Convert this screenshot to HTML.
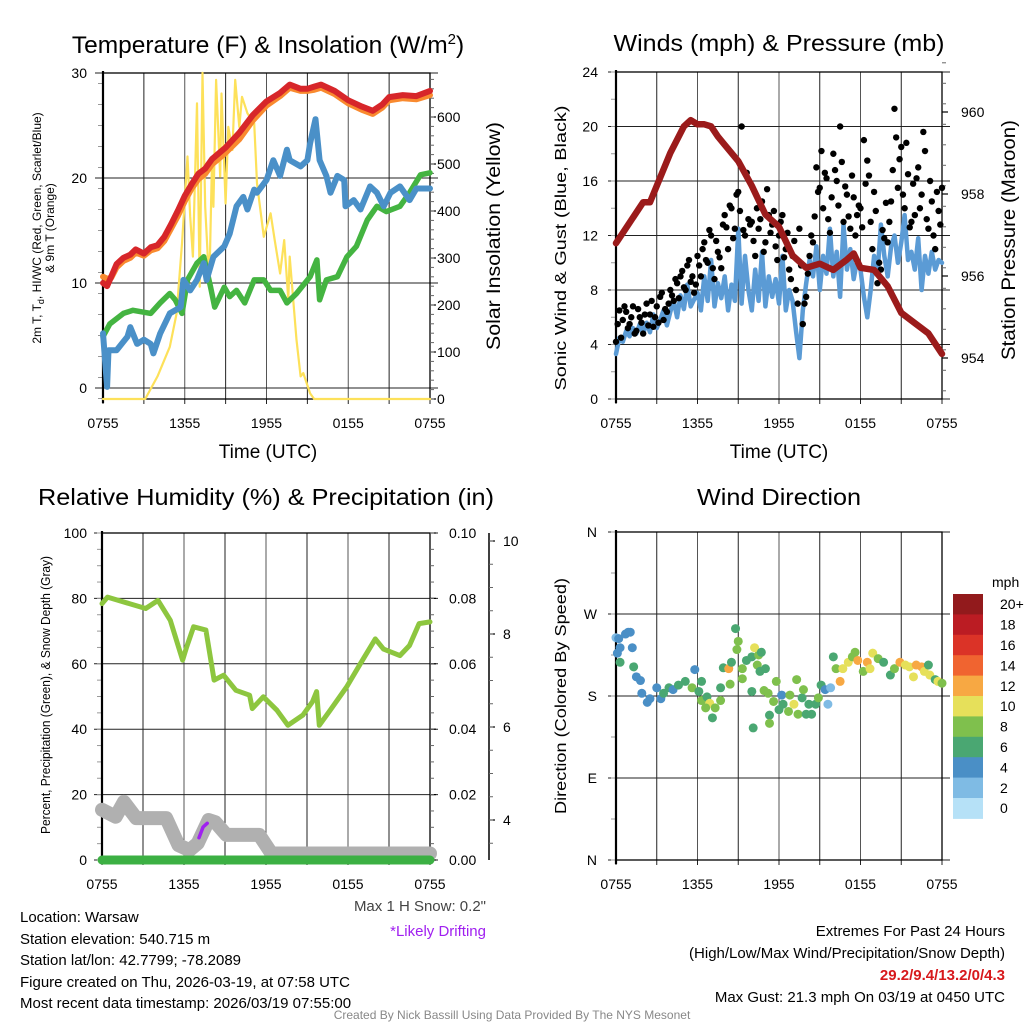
<!DOCTYPE html>
<html><head><meta charset="utf-8"><style>
html,body{margin:0;padding:0;background:#fff;}
svg{display:block;font-family:"Liberation Sans",Arial,sans-serif;}
</style></head><body>
<svg id="c" width="1024" height="1024" viewBox="0 0 1024 1024" xmlns="http://www.w3.org/2000/svg">
<rect width="1024" height="1024" fill="#fff"/>
<text x="268" y="53" font-size="24.5" text-anchor="middle">Temperature (F) &amp; Insolation (W/m<tspan dy="-9" font-size="15">2</tspan><tspan dy="9">)</tspan></text>
<text x="779" y="51" font-size="23" text-anchor="middle" textLength="331" lengthAdjust="spacingAndGlyphs">Winds (mph) &amp; Pressure (mb)</text>
<text x="266" y="505" font-size="23" text-anchor="middle" textLength="456" lengthAdjust="spacingAndGlyphs">Relative Humidity (%) &amp; Precipitation (in)</text>
<text x="779" y="505" font-size="23" text-anchor="middle" textLength="164" lengthAdjust="spacingAndGlyphs">Wind Direction</text>
<text x="268" y="458" font-size="19" text-anchor="middle">Time (UTC)</text>
<text x="779" y="458" font-size="19" text-anchor="middle">Time (UTC)</text>
<text transform="translate(41,228) rotate(-90)" font-size="12" text-anchor="middle">2m T, T<tspan dy="3" font-size="9">d</tspan><tspan dy="-3">, HI/WC (Red, Green, Scarlet/Blue)</tspan></text>
<text transform="translate(54,228) rotate(-90)" font-size="12" text-anchor="middle">&amp; 9m T (Orange)</text>
<text transform="translate(500,236) rotate(-90)" font-size="19" text-anchor="middle" textLength="228" lengthAdjust="spacingAndGlyphs">Solar Insolation (Yellow)</text>
<text transform="translate(566,248) rotate(-90)" font-size="16" text-anchor="middle" textLength="285" lengthAdjust="spacingAndGlyphs">Sonic Wind &amp; Gust (Blue, Black)</text>
<text transform="translate(1015,240) rotate(-90)" font-size="19" text-anchor="middle" textLength="240" lengthAdjust="spacingAndGlyphs">Station Pressure (Maroon)</text>
<text transform="translate(50,695) rotate(-90)" font-size="13" text-anchor="middle" textLength="278" lengthAdjust="spacingAndGlyphs">Percent, Precipitation (Green), &amp; Snow Depth (Gray)</text>
<text transform="translate(566,696) rotate(-90)" font-size="16" text-anchor="middle" textLength="236" lengthAdjust="spacingAndGlyphs">Direction (Colored By Speed)</text>
<text x="486" y="911" font-size="15" text-anchor="end" fill="#444">Max 1 H Snow: 0.2"</text>
<text x="486" y="936" font-size="15" text-anchor="end" fill="#a020f0">*Likely Drifting</text>
<g font-size="15">
<text x="20" y="922">Location: Warsaw</text>
<text x="20" y="944">Station elevation: 540.715 m</text>
<text x="20" y="965">Station lat/lon: 42.7799; -78.2089</text>
<text x="20" y="987">Figure created on Thu, 2026-03-19, at 07:58 UTC</text>
<text x="20" y="1008">Most recent data timestamp: 2026/03/19 07:55:00</text>
</g>
<g font-size="15" text-anchor="end">
<text x="1005" y="936">Extremes For Past 24 Hours</text>
<text x="1005" y="958">(High/Low/Max Wind/Precipitation/Snow Depth)</text>
<text x="1005" y="980" fill="#d7191c" font-weight="bold">29.2/9.4/13.2/0/4.3</text>
<text x="1005" y="1002">Max Gust: 21.3 mph On 03/19 at 0450 UTC</text>
</g>
<text x="512" y="1019" font-size="12" text-anchor="middle" fill="#888">Created By Nick Bassill Using Data Provided By The NYS Mesonet</text>
</svg>
<script>
// ---------- DATA ----------
const xTickLabels = ["0755","1355","1955","0155","0755"];
// Panel 1
const tempHours = [0,0.3,0.6,1,1.5,2,2.4,3,3.5,4,4.5,5,5.5,6,6.5,7,7.5,8,9,10,11,12,13,13.7,14.5,15,15.5,16,17,18,19,19.8,20.5,21,22,23,24];
const tempRed = [10.0,9.7,10.6,11.8,12.4,12.7,13.2,12.8,13.4,13.6,14.4,15.6,16.9,18.3,19.4,20.4,20.9,21.8,22.9,24.3,26.0,27.3,28.1,28.9,28.5,28.5,28.7,28.9,28.3,27.4,26.8,26.4,27.0,27.7,27.9,27.8,28.3];
const tempOrange = [10.6,10.4,10.5,11.5,12.1,12.4,12.9,12.6,13.1,13.3,14.0,15.2,16.4,17.8,19.0,19.9,20.4,21.3,22.4,23.7,25.5,26.9,27.8,28.6,28.3,28.3,28.4,28.6,28.0,27.1,26.5,26.1,26.7,27.4,27.6,27.5,27.9];
const hiwcHours = [0,0.3,0.4,1.0,1.8,2,2.5,3,3.5,3.7,4.2,4.9,5.7,5.9,6.4,6.9,7.4,7.6,8.1,8.9,9.3,9.8,10.3,10.6,11.1,11.3,12,12.5,13,13.5,13.7,14.5,15,15.2,15.6,15.9,16.4,16.7,17.2,17.7,17.8,18.4,18.9,19.6,20.1,20.6,21.1,21.8,22.5,23,24];
const hiwcBlue = [5.2,0.1,3.6,3.6,4.9,5.8,4.2,4.6,4.2,3.3,5.2,7.1,7.7,10.3,9.3,10.3,11.9,10.3,12.5,13.5,14.7,17.3,18.2,17.0,18.9,18.6,19.8,21.7,20.2,22.7,21.7,21.1,21.7,23.3,25.6,21.7,20.2,18.6,20.2,19.8,17.3,17.9,17.0,19.2,18.6,17.3,18.6,19.2,17.9,19.0,19.0];
const dewHours = [0,0.5,1.5,2.2,3.5,4.2,4.9,5.3,5.8,6.2,6.9,7.4,7.9,8.2,8.9,9.3,9.8,10.4,11.1,11.8,12.3,13,13.5,14.2,15.2,15.7,15.9,16.4,17.2,17.9,18.6,19.4,20.1,20.8,21.8,22.5,23.3,24];
const dewGreen = [4.9,6.1,7.1,7.4,7.1,8.1,9.0,8.4,7.1,10.3,11.9,12.5,9.6,7.7,9.6,8.7,9.3,8.1,10.3,10.3,9.3,9.3,8.1,9.0,10.6,12.2,8.4,10.3,10.6,12.5,13.5,16.0,17.3,16.8,17.3,18.6,20.3,20.5];
const solarHours = [0,3.1,4,4.9,5.4,5.8,6.2,6.4,6.6,6.9,7.1,7.3,7.5,7.8,8.0,8.1,8.3,8.6,8.7,9.0,9.2,9.5,9.7,10.0,10.2,10.6,11.1,11.3,11.8,12.3,12.6,13,13.3,13.6,13.7,14.2,14.5,14.7,15.2,15.5,24];
const solarW = [0,0,48,111,182,331,516,388,303,629,239,694,409,239,508,409,679,473,650,416,579,530,679,579,643,608,587,459,345,395,338,267,338,211,303,126,48,55,12,0,0];
const tempTicks = [0,10,20,30];
const solarTicks = [0,100,200,300,400,500,600];
// Panel 2
const windSpeed = [3.3,4.5,4.2,5.0,4.6,5.2,4.8,5.5, 4.8,5.6,4.9,6.2,5.2,5.8,6.5,5.4, 6.4,7.2,6.0,7.6,6.6,8.4,6.8,7.3, 7.8,6.5,9.0,7.2,10.2,6.8,8.5,7.4, 9.0,6.5,8.4,7.2,12.5,7.0,10.5,8.0, 6.5,9.5,7.2,10.8,6.8,9.0,7.5,8.8, 7.0,10.5,6.5,8.0,7.2,5.0,3.0,6.5, 8.5,10.2,9.0,11.2,8.0,10.5,9.2,12.5, 9.0,10.8,7.5,12.8,9.5,11.0,8.8,10.2, 9.5,7.5,6.0,8.0,10.5,9.2,12.8,10.5, 9.0,11.2,12.0,10.0,11.5,13.5,10.2,10.8, 9.5,11.8,8.0,10.5,9.2,10.8,9.5,10.2,10.0];
const windGust = [4.2,6.5,5.8,6.4,5.5,6.8,5.0,6.0, 4.8,7.0,6.2,5.3,6.8,7.5,5.8,6.4, 8.0,7.2,8.5,9.0,8.2,9.8,8.6,7.8, 10.5,9.0,11.5,10.0,12.0,8.8,10.8,9.6, 13.5,11.0,14.0,12.5,15.2,20.0,12.0,13.2, 13.0,10.5,12.5,14.5,11.5,13.5,12.8,11.2, 12.0,13.5,11.0,9.5,10.5,8.0,12.5,5.5, 7.5,10.5,11.5,17.0,15.5,14.0,16.2,12.2, 18.0,16.0,20.0,13.0,15.0,12.5,14.8,13.5, 14.0,19.0,17.5,13.0,15.2,8.5,9.5,11.8, 11.5,14.5,21.3,15.5,18.5,14.0,16.5,13.0, 13.5,17.0,15.0,18.2,12.5,14.5,11.0,13.8,15.5];
const windGust2 = [5.5,4.5,6.8,5.2,6.0,4.8,6.6,5.6, 6.2,5.4,7.2,6.0,5.6,7.8,6.6,7.0, 7.6,8.8,7.4,9.4,8.0,10.2,9.0,8.4, 9.8,11.0,10.2,12.4,9.6,11.6,10.4,12.8, 12.6,14.2,11.8,15.0,13.8,12.4,16.6,12.8, 11.6,14.0,13.2,10.8,15.4,12.2,13.8,10.2, 13.0,10.4,12.2,8.8,11.6,7.0,9.8,7.0, 9.2,12.0,13.4,15.2,18.2,16.6,13.2,14.8, 16.8,14.2,17.4,15.6,13.4,16.4,12.0,14.2, 12.6,15.8,16.4,11.0,13.8,10.0,12.4,14.4, 13.0,16.8,19.2,17.6,15.0,18.8,12.6,15.8, 16.2,14.0,19.6,13.2,16.0,12.0,15.2,12.8];
const presHours = [0,1,2,2.5,3,4,5,5.5,6,6.5,7,7.5,8,9,10,11,12,13,14,15,16,17,17.5,18,19,20,21,22,23,24];
const pressure = [956.8,957.3,957.8,957.8,958.2,959.0,959.65,959.8,959.7,959.7,959.65,959.4,959.2,958.8,958.2,957.5,957.2,956.5,956.2,956.3,956.15,956.4,956.55,956.2,956.15,955.75,955.1,954.85,954.6,954.1];
const windTicks = [0,4,8,12,16,20,24];
const presTicks = [954,956,958,960];
// Panel 3
const rhHours = [0,0.4,2,3.2,4.1,5,5.9,6.2,6.7,7.6,8.2,8.9,9.8,10.8,11,11.8,12.8,13.6,14.7,15.4,15.7,15.9,16.7,17.9,18.9,20,20.6,21.8,22.5,23.2,24];
const rhValues = [78.4,80.4,78.4,76.9,79.4,73.3,61.1,65.2,71.3,70.3,55.0,56.5,51.9,50.4,46.3,49.9,45.8,41.2,44.3,48.4,51.5,41.2,45.8,52.9,60.0,67.6,64.5,62.5,65.6,72.3,72.8];
const snowHours = [0,1.0,1.6,2.5,4.7,5.6,6.4,7.0,7.8,8.3,9.1,11.5,12.4,24];
const snowDepth = [4.22,4.07,4.39,4.04,4.04,3.46,3.35,3.5,4.0,3.95,3.68,3.68,3.28,3.28];
const driftHours = [7.1,7.4,7.7];
const driftDepth = [3.62,3.85,3.93];
const precipHours = [0,24];
const precipValues = [0,0];
const rhTicks = [0,20,40,60,80,100];
const precipTicks = [0,0.02,0.04,0.06,0.08,0.10];
const snowTicks = [4,6,8,10];
// Panel 4
const dirHours = [0,0.2,0.1,0.3,0.3,0.7,0.9,1.05,1.2,1.3,1.5,1.8,1.9,2.3,2.5,3.0,3.3,3.5,3.9,4.2,4.6,5.1,5.6,5.8,6.1,6.3,6.3,6.7,6.9,6.6,7.1,7.3,7.7,7.7,7.9,8.3,8.4,8.5,8.8,9.0,8.9,9.3,9.3,9.6,10.0,10.4,10.6,10.5,10.2,10.7,11.0,10.0,10.1,10.9,11.2,11.3,11.6,11.8,12.0,11.3,12.2,12.3,12.7,12.8,13.1,13.3,13.4,13.7,13.8,14.0,14.2,14.4,14.7,14.9,15.1,15.4,15.6,15.8,16.0,16.2,16.5,16.7,17.1,17.4,17.6,17.8,18.2,18.5,18.7,18.9,19.3,19.7,20.2,20.5,20.9,21.3,21.6,21.9,22.1,22.5,22.7,23.0,23.1,23.5,23.7,24.0];
const dirDeg = [244,243,227,233,217,248,250,250,233,212,201,197,183,173,177,189,177,183,189,187,192,196,189,209,185,196,175,179,172,167,156,167,175,189,211,210,193,217,254,240,231,210,199,219,223,214,207,225,233,228,210,185,145,186,183,159,174,196,165,150,181,171,163,181,171,198,160,178,187,160,171,160,171,178,192,187,171,189,223,210,196,210,217,223,228,219,207,217,210,227,221,217,203,210,217,214,212,201,214,212,207,214,203,198,196,194];
const dirSpeed = [2,4,4,4,6,4,4,4,4,6,4,4,4,4,4,4,4,6,6,4,6,6,8,4,6,6,8,6,10,8,6,8,8,6,6,12,8,6,6,8,8,8,8,6,6,8,6,8,10,6,6,6,6,8,8,6,8,8,6,8,4,6,8,8,10,8,8,6,8,6,6,6,6,8,6,4,2,2,6,8,12,10,10,8,8,12,8,12,10,10,8,6,6,8,12,10,10,10,12,12,10,6,10,6,10,8];
const dirTickLabels = ["N","E","S","W","N"];
const speedColors = ["#b6e1f7","#7fbbe4","#4a8fc6","#4aa772","#7fc04d","#e6e05a","#f7a843","#f06430","#db3327","#bb1c23","#921a1c"];
const speedLabels = ["0","2","4","6","8","10","12","14","16","18","20+"];

// ---------- HELPERS ----------
const NS = "http://www.w3.org/2000/svg";
const svg = document.getElementById("c");
function mk(tag, attrs, parent) {
  const e = document.createElementNS(NS, tag);
  for (const k in attrs) e.setAttribute(k, attrs[k]);
  (parent || svg).appendChild(e);
  return e;
}
function linearScale(d0, d1, r0, r1) { return v => r0 + (v - d0) * (r1 - r0) / (d1 - d0); }
function pathFrom(xs, ys, sx, sy) {
  let d = "";
  for (let i = 0; i < xs.length; i++) d += (i ? "L" : "M") + sx(xs[i]).toFixed(1) + "," + sy(ys[i]).toFixed(1);
  return d;
}
function drawFrame(name, x0, x1, y0, y1, leftTicks, sy, minorLeft) {
  const g = mk("g", {});
  
  
  const sx = linearScale(0, 24, x0, x1);
  for (let h = 3; h < 24; h += 3) {
    const l = mk("line", {x1: sx(h), x2: sx(h), y1: y0, y2: y1, stroke: (h % 6 ? "#222" : "#555"), "stroke-width": 1}, g);
    
    
  }
  leftTicks.forEach(v => {
    const yy = sy(v);
    const l = mk("line", {x1: x0 - 8, x2: x1 + 8, y1: yy, y2: yy, stroke: "#222", "stroke-width": 1}, g);
    
    
  });
  minorLeft.forEach(v => {
    const yy = sy(v);
    const l = mk("line", {x1: x0 - 5, x2: x0, y1: yy, y2: yy, stroke: "#999", "stroke-width": 1}, g);
    
    
  });
  for (let h = 0; h <= 24; h += 3) {
    const l = mk("line", {x1: sx(h), x2: sx(h), y1: y1, y2: y1 + 5, stroke: "#222", "stroke-width": 1}, g);
    
    
  }
  const r = mk("rect", {x: x0, y: y0, width: x1 - x0, height: y1 - y0, fill: "none", stroke: "#000", "stroke-width": 1.3}, g);
  
  
  const la = mk("line", {x1: x0, x2: x0, y1: y0 - 2, y2: y1 + 4, stroke: "#000", "stroke-width": 2.2}, g);
  
  
  xTickLabels.forEach((t, i) => {
    const tx = mk("text", {x: sx(i * 6), y: y1 + 29, "font-size": 14, "text-anchor": "middle"}, g);
    tx.textContent = t;
    
    
  });
  return sx;
}
function leftLabels(ticks, sy, x) {
  ticks.forEach(v => {
    const t = mk("text", {x: x, y: sy(v) + 5, "font-size": 14, "text-anchor": "end"});
    t.textContent = v;
    
    
  });
}
function rightAxis(ticks, sy, x, labelX, fmt, minor) {
  ticks.forEach(v => {
    const yy = sy(v);
    const l = mk("line", {x1: x, x2: x + 6, y1: yy, y2: yy, stroke: "#000", "stroke-width": 1.2});
    
    
    const t = mk("text", {x: labelX, y: yy + 5, "font-size": 14});
    t.textContent = fmt ? fmt(v) : v;
    
    
  });
  (minor || []).forEach(v => {
    const yy = sy(v);
    const l = mk("line", {x1: x, x2: x + 4, y1: yy, y2: yy, stroke: "#666", "stroke-width": 1});
    
    
  });
}
function series(name, xs, ys, sx, sy, color, width) {
  const p = mk("path", {d: pathFrom(xs, ys, sx, sy), fill: "none", stroke: color, "stroke-width": width, "stroke-linejoin": "round", "stroke-linecap": "round"});
  
  
  return p;
}
function range(a, b, s) { const r = []; for (let v = a; v <= b + 1e-9; v += s) r.push(+v.toFixed(4)); return r; }

// ---------- PANEL 1 ----------
(function(){
  const x0 = 103, x1 = 430, y0 = 73, y1 = 399;
  const syT = linearScale(0, 30, 388, 73);
  const syS = linearScale(0, 600, 399, 117);
  const sx = drawFrame("temperature", x0, x1, y0, y1, tempTicks, syT, range(-1, 30, 2));
  leftLabels(tempTicks, syT, 87);
  rightAxis(solarTicks, syS, x1, 437, null, range(0, 680, 20));
  series("solar-insolation-line", solarHours, solarW, sx, syS, "#fde15a", 2.2);
  series("temperature-9m-line", tempHours, tempOrange, sx, syT, "#f98a2f", 6);
  series("temperature-2m-line", tempHours, tempRed, sx, syT, "#d7262a", 6);
  series("dewpoint-line", dewHours, dewGreen, sx, syT, "#44b441", 5.5);
  series("heat-index-windchill-line", hiwcHours, hiwcBlue, sx, syT, "#4a90c8", 6);
})();

// ---------- PANEL 2 ----------
(function(){
  const x0 = 616, x1 = 942, y0 = 72, y1 = 399;
  const syW = linearScale(0, 24, 399, 72);
  const syP = linearScale(954, 960, 358, 112);
  const sx = drawFrame("winds", x0, x1, y0, y1, windTicks, syW, range(0, 24, 2));
  leftLabels(windTicks, syW, 598);
  rightAxis(presTicks, syP, x1, 961, null, range(953.2, 961.2, 0.5));
  const hStep = 24 / (windSpeed.length - 1);
  series("sonic-wind-line", windSpeed.map((v, i) => i * hStep), windSpeed, sx, syW, "#5b9bd5", 4.5);
  const gStep = 24 / (windGust.length - 1);
  windGust.forEach((v, i) => {
    const c = mk("circle", {cx: sx(i * gStep), cy: syW(v), r: 3.2, fill: "#000"});
    
    
  });
  const g2Step = 24 / windGust2.length;
  windGust2.forEach((v, i) => {
    const c = mk("circle", {cx: sx(i * g2Step + g2Step / 2), cy: syW(v), r: 3.2, fill: "#000"});
    
    
  });
  series("station-pressure-line", presHours, pressure, sx, syP, "#9b1b1b", 6.5);
})();

// ---------- PANEL 3 ----------
(function(){
  const x0 = 102, x1 = 430, y0 = 533, y1 = 860;
  const syR = linearScale(0, 100, 860, 533);
  const syPr = linearScale(0, 0.1, 860, 533);
  const sySn = linearScale(4, 10, 820, 541);
  const sx = drawFrame("humidity", x0, x1, y0, y1, rhTicks, syR, range(0, 100, 5));
  leftLabels(rhTicks, syR, 87);
  rightAxis(precipTicks, syPr, x1, 449, v => v.toFixed(2), range(0, 0.1, 0.005));
  const ax = mk("line", {x1: 489, x2: 489, y1: 533, y2: 860, stroke: "#000", "stroke-width": 1.5});
  
  
  rightAxis(snowTicks, sySn, 489, 503, null, range(3.5, 10, 0.5));
  series("snow-depth-line", snowHours, snowDepth, sx, sySn, "#b0b0b0", 14);
  series("drifting-snow-line", driftHours, driftDepth, sx, sySn, "#a020f0", 3.5);
  series("precipitation-line", precipHours, precipValues, sx, syPr, "#3cb043", 9);
  series("relative-humidity-line", rhHours, rhValues, sx, syR, "#8dc63f", 5);
})();

// ---------- PANEL 4 ----------
(function(){
  const x0 = 616, x1 = 942, y0 = 532, y1 = 860;
  const syD = linearScale(0, 360, 860, 532);
  const dirTicks = [0, 90, 180, 270, 360];
  const sx = drawFrame("wind-direction", x0, x1, y0, y1, dirTicks, syD, range(0, 360, 45));
  dirTicks.forEach((v, i) => {
    const t = mk("text", {x: 597, y: syD(v) + 5, "font-size": 14, "text-anchor": "end"});
    t.textContent = dirTickLabels[i];
    
    
  });
  dirHours.forEach((h, i) => {
    const bin = Math.min(10, Math.floor(dirSpeed[i] / 2));
    const c = mk("circle", {cx: sx(h), cy: syD(dirDeg[i]), r: 4.5, fill: speedColors[bin]});
    
    
  });
  const cbX = 953, cbTop = 594, cbH = 20.4, n = speedColors.length;
  const u = mk("text", {x: 992, y: 587, "font-size": 14});
  u.textContent = "mph";
  
  
  for (let i = 0; i < n; i++) {
    const idx = n - 1 - i;
    const r = mk("rect", {x: cbX, y: cbTop + i * cbH, width: 30, height: cbH + 0.5, fill: speedColors[idx]});
    
    
    const t = mk("text", {x: 1000, y: cbTop + i * cbH + cbH / 2 + 5, "font-size": 14});
    t.textContent = speedLabels[idx];
    
    
  }
})();
</script>
</body></html>
